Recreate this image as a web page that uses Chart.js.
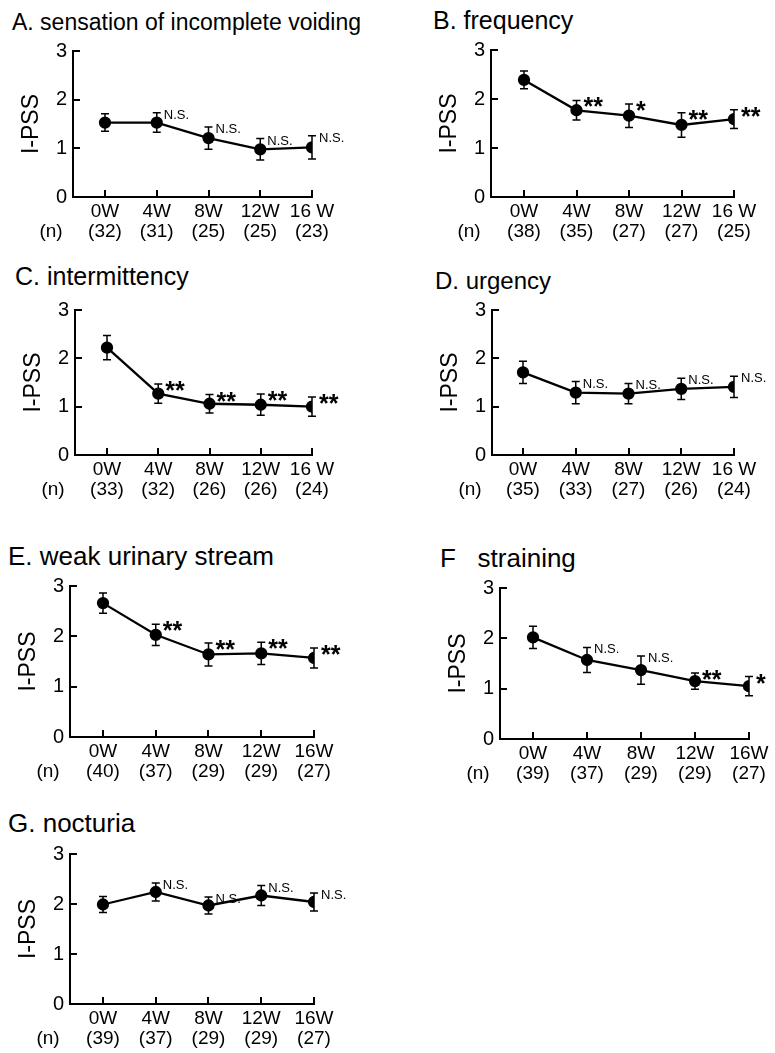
<!DOCTYPE html>
<html lang="en">
<head>
    <meta charset="UTF-8">
    <title>I-PSS subscores over 16 weeks</title>
    <script src="https://cdn.jsdelivr.net/npm/chart.js"></script>
    <style>
        body {
            margin: 0;
            width: 775px;
            height: 1053px;
            overflow: hidden;
            position: relative;
            background: #fff;
            font-family: 'Liberation Sans', Arial, Helvetica, sans-serif;
        }

        .panel-title {
            position: absolute;
            white-space: pre;
            line-height: 1;
            color: #000;
        }

        canvas {
            position: absolute;
        }
    </style>
</head>
<body>
    <script>
        // Week labels (the 16 W label is spaced in the top panels)
        const weeksTop = ['0W', '4W', '8W', '12W', '16 W'];
        const weeksBottom = ['0W', '4W', '8W', '12W', '16W'];

        // A. sensation of incomplete voiding
        const titleA = 'A. sensation of incomplete voiding';
        const meanA = [1.53, 1.53, 1.21, 0.98, 1.02];
        const errA = [0.18, 0.20, 0.23, 0.22, 0.24];
        const nA = [32, 31, 25, 25, 23];
        const sigA = ['', 'N.S.', 'N.S.', 'N.S.', 'N.S.'];

        // B. frequency
        const titleB = 'B. frequency';
        const meanB = [2.39, 1.77, 1.66, 1.47, 1.59];
        const errB = [0.18, 0.20, 0.24, 0.25, 0.19];
        const nB = [38, 35, 27, 27, 25];
        const sigB = ['', '**', '*', '**', '**'];

        // C. intermittency
        const titleC = 'C. intermittency';
        const meanC = [2.22, 1.27, 1.06, 1.04, 1.00];
        const errC = [0.25, 0.20, 0.19, 0.22, 0.20];
        const nC = [33, 32, 26, 26, 24];
        const sigC = ['', '**', '**', '**', '**'];

        // D. urgency
        const titleD = 'D. urgency';
        const meanD = [1.71, 1.29, 1.27, 1.37, 1.41];
        const errD = [0.23, 0.23, 0.21, 0.22, 0.22];
        const nD = [35, 33, 27, 26, 24];
        const sigD = ['', 'N.S.', 'N.S.', 'N.S.', 'N.S.'];

        // E. weak urinary stream
        const titleE = 'E. weak urinary stream';
        const meanE = [2.66, 2.03, 1.64, 1.66, 1.57];
        const errE = [0.20, 0.21, 0.23, 0.22, 0.20];
        const nE = [40, 37, 29, 29, 27];
        const sigE = ['', '**', '**', '**', '**'];

        // F straining
        const titleF = 'F   straining';
        const meanF = [2.02, 1.57, 1.37, 1.15, 1.05];
        const errF = [0.22, 0.25, 0.28, 0.16, 0.19];
        const nF = [39, 37, 29, 29, 27];
        const sigF = ['', 'N.S.', 'N.S.', '**', '*'];

        // G. nocturia
        const titleG = 'G. nocturia';
        const meanG = [1.99, 2.24, 1.97, 2.17, 2.04];
        const errG = [0.16, 0.18, 0.17, 0.20, 0.18];
        const nG = [39, 37, 29, 29, 27];
        const sigG = ['', 'N.S.', 'N.S.', 'N.S.', 'N.S.'];

        const panels = [
            { title: titleA, mean: meanA, err: errA, n: nA, sig: sigA, weeks: weeksTop },
            { title: titleB, mean: meanB, err: errB, n: nB, sig: sigB, weeks: weeksTop },
            { title: titleC, mean: meanC, err: errC, n: nC, sig: sigC, weeks: weeksTop },
            { title: titleD, mean: meanD, err: errD, n: nD, sig: sigD, weeks: weeksTop },
            { title: titleE, mean: meanE, err: errE, n: nE, sig: sigE, weeks: weeksBottom },
            { title: titleF, mean: meanF, err: errF, n: nF, sig: sigF, weeks: weeksBottom },
            { title: titleG, mean: meanG, err: errG, n: nG, sig: sigG, weeks: weeksBottom }
        ];

        // Page placement of each panel: y axis x, pixel of 3 and 0, 0W and 16W ticks, title
        const boxes = [
            { axisX: 73,  top: 47,  bottom: 197,  zeroX: 105, right: 312, tx: 12,  tBase: 30,  tSize: 23 },
            { axisX: 491, top: 46,  bottom: 197,  zeroX: 524, right: 734, tx: 433, tBase: 29,  tSize: 25 },
            { axisX: 75,  top: 306, bottom: 455,  zeroX: 107, right: 312, tx: 15,  tBase: 285, tSize: 25 },
            { axisX: 492, top: 306, bottom: 455,  zeroX: 523, right: 734, tx: 435, tBase: 289, tSize: 24 },
            { axisX: 70,  top: 582, bottom: 737,  zeroX: 103, right: 314, tx: 8,   tBase: 565, tSize: 26 },
            { axisX: 500, top: 584, bottom: 739,  zeroX: 533, right: 749, tx: 440, tBase: 567, tSize: 26 },
            { axisX: 70,  top: 850, bottom: 1004, zeroX: 103, right: 314, tx: 8,   tBase: 832, tSize: 26 }
        ];

        const Y_AXIS_W = 65;
        const X_AXIS_H = 50;
        const PAD_TOP = 14;
        const FONT = "'Liberation Sans', Arial, sans-serif";

        // Error bars, inward ticks, significance marks and the (n) label
        function panelPlugin(p) {
            return {
                id: 'panelExtras',
                beforeDatasetsDraw(chart) {
                    const { ctx, scales: { x, y } } = chart;
                    ctx.save();
                    ctx.strokeStyle = '#000';
                    ctx.lineWidth = 1.5;
                    p.mean.forEach((m, i) => {
                        const px = x.getPixelForValue(i);
                        const hi = y.getPixelForValue(m + p.err[i]);
                        const lo = y.getPixelForValue(m - p.err[i]);
                        ctx.beginPath();
                        ctx.moveTo(px, hi); ctx.lineTo(px, lo);
                        ctx.moveTo(px - 4, hi); ctx.lineTo(px + 4, hi);
                        ctx.moveTo(px - 4, lo); ctx.lineTo(px + 4, lo);
                        ctx.stroke();
                    });
                    ctx.restore();
                },
                afterDraw(chart) {
                    const { ctx, chartArea, scales: { x, y } } = chart;
                    ctx.save();
                    ctx.fillStyle = '#000';
                    // tick marks pointing into the plot
                    p.weeks.forEach((w, i) => {
                        const px = Math.round(x.getPixelForValue(i));
                        ctx.fillRect(px - 1, chartArea.bottom - 7, 2, 7);
                    });
                    [1, 2, 3].forEach(v => {
                        const py = Math.round(y.getPixelForValue(v));
                        ctx.fillRect(chartArea.left, py - 1, 7, 2);
                    });

                    ctx.textAlign = 'left';
                    ctx.textBaseline = 'alphabetic';
                    p.sig.forEach((s, i) => {
                        if (!s) return;
                        const px = x.getPixelForValue(i) + 7;
                        const top = y.getPixelForValue(p.mean[i] + p.err[i]);
                        if (s === 'N.S.') {
                            ctx.font = '13px ' + FONT;
                            ctx.fillText(s, px, top + 6);
                        } else {
                            ctx.font = 'bold 25px ' + FONT;
                            ctx.fillText(s, px, top + 15);
                        }
                    });

                    ctx.font = '19px ' + FONT;
                    ctx.textAlign = 'center';
                    ctx.textBaseline = 'middle';
                    ctx.fillText('(n)', chartArea.left - 22, chartArea.bottom + 35);
                    ctx.restore();
                }
            };
        }

        panels.forEach((p, k) => {
            const b = boxes[k];
            const limit = b.axisX < 380 ? 385 : 775;
            const left = b.axisX - Y_AXIS_W;
            const width = Math.min(b.right + 50, limit) - left;
            const height = b.bottom - b.top + PAD_TOP + X_AXIS_H;
            const step = (b.right - b.zeroX) / 4;

            const title = document.createElement('div');
            title.className = 'panel-title';
            title.textContent = p.title;
            title.style.fontSize = b.tSize + 'px';
            title.style.left = b.tx + 'px';
            title.style.top = (b.tBase - 0.8465 * b.tSize) + 'px';
            document.body.appendChild(title);

            const canvas = document.createElement('canvas');
            canvas.width = width;
            canvas.height = height;
            canvas.style.left = left + 'px';
            canvas.style.top = (b.top - PAD_TOP) + 'px';
            document.body.appendChild(canvas);

            new Chart(canvas.getContext('2d'), {
                type: 'line',
                data: {
                    datasets: [{
                        data: p.mean.map((m, i) => ({ x: i, y: m })),
                        borderColor: '#000',
                        borderWidth: 2.3,
                        pointRadius: 5,
                        pointBackgroundColor: '#000',
                        pointBorderColor: '#000',
                        tension: 0
                    }]
                },
                options: {
                    responsive: false,
                    animation: false,
                    layout: {
                        padding: { top: PAD_TOP, right: width - (b.right - left), left: 0, bottom: 0 }
                    },
                    plugins: {
                        legend: { display: false },
                        tooltip: { enabled: false }
                    },
                    scales: {
                        x: {
                            type: 'linear',
                            min: -(b.zeroX - b.axisX) / step,
                            max: 4,
                            grid: { display: false, drawTicks: false },
                            border: { color: '#000', width: 2 },
                            afterBuildTicks: s => { s.ticks = p.weeks.map((w, i) => ({ value: i })); },
                            afterFit: s => { s.height = X_AXIS_H; },
                            ticks: {
                                color: '#000',
                                padding: 5,
                                autoSkip: false,
                                maxRotation: 0,
                                font: { family: FONT, size: 19, lineHeight: 1.05 },
                                callback: v => [p.weeks[v], '(' + p.n[v] + ')']
                            }
                        },
                        y: {
                            min: 0,
                            max: 3,
                            grid: { display: false, drawTicks: false },
                            border: { color: '#000', width: 2 },
                            afterFit: s => { s.width = Y_AXIS_W; },
                            ticks: {
                                stepSize: 1,
                                color: '#000',
                                padding: 6,
                                font: { family: FONT, size: 20 }
                            },
                            title: {
                                display: true,
                                text: 'I-PSS',
                                color: '#000',
                                padding: { top: 10, bottom: 0 },
                                font: { family: FONT, size: 23 }
                            }
                        }
                    }
                },
                plugins: [panelPlugin(p)]
            });
        });
    </script>
</body>
</html>
